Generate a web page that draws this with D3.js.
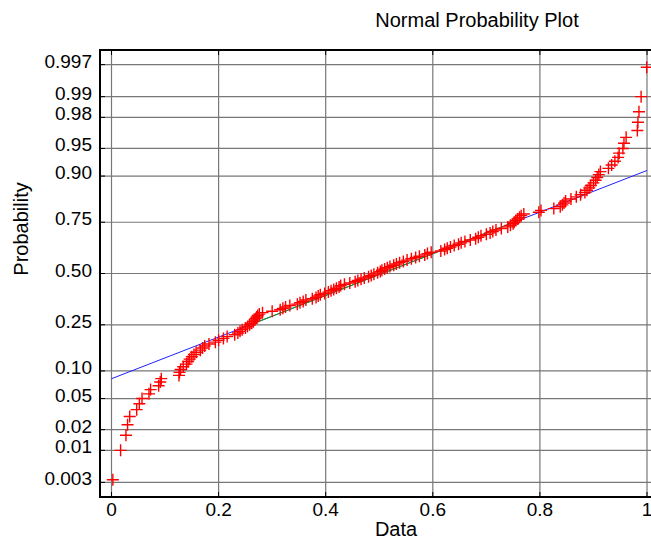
<!DOCTYPE html>
<html>
<head>
<meta charset="utf-8">
<script src="https://cdn.jsdelivr.net/npm/d3@7"></script>
<style>
  body { margin: 0; background: #fff; }
  text { font-family: "Liberation Sans", Arial, Helvetica, sans-serif; fill: #000; }
</style>
</head>
<body>
<div id="chart"></div>
<script>
// sorted sample values, one per rank
var dataValues = [
  0.0025, 0.017, 0.027, 0.030, 0.034, 0.047, 0.052, 0.057, 0.070, 0.073,
  0.088, 0.091, 0.093, 0.126, 0.127, 0.129, 0.134, 0.140, 0.143, 0.146,
  0.150, 0.154, 0.158, 0.166, 0.170, 0.174, 0.182, 0.194, 0.200, 0.209,
  0.216, 0.230, 0.236, 0.240, 0.244, 0.250, 0.254, 0.258, 0.262, 0.265,
  0.267, 0.269, 0.271, 0.273, 0.276, 0.282, 0.300, 0.315, 0.320, 0.325,
  0.333, 0.347, 0.352, 0.358, 0.363, 0.375, 0.382, 0.386, 0.390, 0.398,
  0.405, 0.410, 0.415, 0.420, 0.425, 0.428, 0.435, 0.445, 0.455, 0.460,
  0.466, 0.472, 0.480, 0.485, 0.490, 0.497, 0.502, 0.505, 0.510, 0.515,
  0.520, 0.527, 0.532, 0.538, 0.545, 0.552, 0.560, 0.568, 0.575, 0.585,
  0.590, 0.597, 0.615, 0.622, 0.627, 0.633, 0.640, 0.648, 0.653, 0.660,
  0.670, 0.680, 0.685, 0.690, 0.700, 0.707, 0.712, 0.718, 0.728, 0.740,
  0.745, 0.750, 0.752, 0.755, 0.758, 0.762, 0.765, 0.770, 0.798, 0.802,
  0.826, 0.838, 0.842, 0.845, 0.848, 0.858, 0.868, 0.876, 0.884, 0.888,
  0.892, 0.895, 0.900, 0.904, 0.907, 0.910, 0.913, 0.928, 0.934, 0.940,
  0.946, 0.948, 0.955, 0.957, 0.961, 0.982, 0.983, 0.985, 0.989, 0.9995
];

var probTicks = [0.003, 0.01, 0.02, 0.05, 0.10, 0.25, 0.50, 0.75, 0.90, 0.95, 0.98, 0.99, 0.997];
var probLabels = ["0.003", "0.01", "0.02", "0.05", "0.10", "0.25", "0.50", "0.75", "0.90", "0.95", "0.98", "0.99", "0.997"];
var xTicks = [0, 0.2, 0.4, 0.6, 0.8, 1];
var xLabels = ["0", "0.2", "0.4", "0.6", "0.8", "1"];

// inverse normal cdf (Acklam)
function probit(p) {
    var a = [-39.69683028665376, 220.9460984245205, -275.9285104469687, 138.3577518672690, -30.66479806614716, 2.506628277459239];
    var b = [-54.47609879822406, 161.5858368580409, -155.6989798598866, 66.80131188771972, -13.28068155288572];
    var c = [-0.007784894002430293, -0.3223964580411365, -2.400758277161838, -2.549732539343734, 4.374664141464968, 2.938163982698783];
    var d = [0.007784695709041462, 0.3224671290700398, 2.445134137142996, 3.754408661907416];
    var pl = 0.02425, q, r;
    if (p < pl) {
        q = Math.sqrt(-2 * Math.log(p));
        return (((((c[0]*q+c[1])*q+c[2])*q+c[3])*q+c[4])*q+c[5]) / ((((d[0]*q+d[1])*q+d[2])*q+d[3])*q+1);
    }
    if (p > 1 - pl) {
        q = Math.sqrt(-2 * Math.log(1 - p));
        return -(((((c[0]*q+c[1])*q+c[2])*q+c[3])*q+c[4])*q+c[5]) / ((((d[0]*q+d[1])*q+d[2])*q+d[3])*q+1);
    }
    q = p - 0.5; r = q * q;
    return (((((a[0]*r+a[1])*r+a[2])*r+a[3])*r+a[4])*r+a[5])*q / (((((b[0]*r+b[1])*r+b[2])*r+b[3])*r+b[4])*r+1);
}

var W = 651, H = 542;
var margin = {left: 100, top: 50, right: 0, bottom: 45};
var plotRight = 660; // the right frame is cut off in the original

var svg = d3.select("#chart").append("svg")
    .attr("width", W)
    .attr("height", H);

var x = d3.scaleLinear()
    .domain([0, 1])
    .range([111.5, 647]);

var y = d3.scaleLinear()
    .domain([-2.94, 2.94])
    .range([H - margin.bottom, margin.top]);

var n = dataValues.length;
var points = dataValues.map(function(v, i) {
    return {x: v, z: probit((i + 0.5) / n)};
});

// grid
svg.append("g").selectAll("line.hgrid")
    .data(probTicks)
    .enter().append("line")
    .attr("class", "hgrid")
    .attr("x1", margin.left).attr("x2", plotRight)
    .attr("y1", function(d) { return y(probit(d)); })
    .attr("y2", function(d) { return y(probit(d)); })
    .attr("stroke", "#777").attr("stroke-width", 1.2);

svg.append("g").selectAll("line.vgrid")
    .data(xTicks)
    .enter().append("line")
    .attr("class", "vgrid")
    .attr("x1", function(d) { return x(d); })
    .attr("x2", function(d) { return x(d); })
    .attr("y1", margin.top).attr("y2", H - margin.bottom)
    .attr("stroke", "#777").attr("stroke-width", 1.2);

// reference line through the quartiles
var q1 = d3.quantile(dataValues, 0.25),
    q3 = d3.quantile(dataValues, 0.75);
var slope = (probit(0.75) - probit(0.25)) / (q3 - q1);
var icpt = probit(0.25) - slope * q1;

svg.append("line")
    .attr("x1", x(0)).attr("y1", y(icpt))
    .attr("x2", x(1)).attr("y2", y(icpt + slope))
    .attr("stroke", "#2020ff").attr("stroke-width", 1);

svg.append("line")
    .attr("x1", x(q1)).attr("y1", y(probit(0.25)))
    .attr("x2", x(q3)).attr("y2", y(probit(0.75)))
    .attr("stroke", "#00b000").attr("stroke-width", 1);

// data markers
var s = 6;
svg.append("g").selectAll("path.pt")
    .data(points)
    .enter().append("path")
    .attr("class", "pt")
    .attr("d", function(d) {
        var cx = x(d.x), cy = y(d.z);
        return "M" + (cx - s) + "," + cy + "H" + (cx + s) + "M" + cx + "," + (cy - s) + "V" + (cy + s);
    })
    .attr("stroke", "#ff0000")
    .attr("stroke-width", 1.4)
    .attr("fill", "none");

// frame
svg.append("path")
    .attr("d", "M" + plotRight + "," + margin.top + "H" + margin.left + "V" + (H - margin.bottom) + "H" + plotRight)
    .attr("stroke", "#000").attr("stroke-width", 2).attr("fill", "none");

// tick marks (inside)
svg.append("g").selectAll("line.ytick")
    .data(probTicks)
    .enter().append("line")
    .attr("x1", margin.left).attr("x2", margin.left + 5)
    .attr("y1", function(d) { return y(probit(d)); })
    .attr("y2", function(d) { return y(probit(d)); })
    .attr("stroke", "#000").attr("stroke-width", 1);

svg.append("g").selectAll("line.xtickTop")
    .data(xTicks)
    .enter().append("line")
    .attr("x1", function(d) { return x(d); })
    .attr("x2", function(d) { return x(d); })
    .attr("y1", margin.top).attr("y2", margin.top + 5)
    .attr("stroke", "#000").attr("stroke-width", 1);

svg.append("g").selectAll("line.xtickBot")
    .data(xTicks)
    .enter().append("line")
    .attr("x1", function(d) { return x(d); })
    .attr("x2", function(d) { return x(d); })
    .attr("y1", H - margin.bottom).attr("y2", H - margin.bottom - 5)
    .attr("stroke", "#000").attr("stroke-width", 1);

// tick labels
svg.append("g").selectAll("text.ylab")
    .data(probTicks)
    .enter().append("text")
    .attr("x", 92)
    .attr("y", function(d) { return y(probit(d)) + 3; })
    .attr("text-anchor", "end")
    .style("font-size", "19px")
    .text(function(d, i) { return probLabels[i]; });

svg.append("g").selectAll("text.xlab")
    .data(xTicks)
    .enter().append("text")
    .attr("x", function(d) { return x(d); })
    .attr("y", 516)
    .attr("text-anchor", "middle")
    .style("font-size", "19px")
    .text(function(d, i) { return xLabels[i]; });

// titles
svg.append("text")
    .attr("x", 477).attr("y", 27)
    .attr("text-anchor", "middle")
    .style("font-size", "20px")
    .text("Normal Probability Plot");

svg.append("text")
    .attr("x", 396).attr("y", 536)
    .attr("text-anchor", "middle")
    .style("font-size", "20px")
    .text("Data");

svg.append("text")
    .attr("transform", "translate(28,229) rotate(-90)")
    .attr("text-anchor", "middle")
    .style("font-size", "20px")
    .text("Probability");
</script>
</body>
</html>
